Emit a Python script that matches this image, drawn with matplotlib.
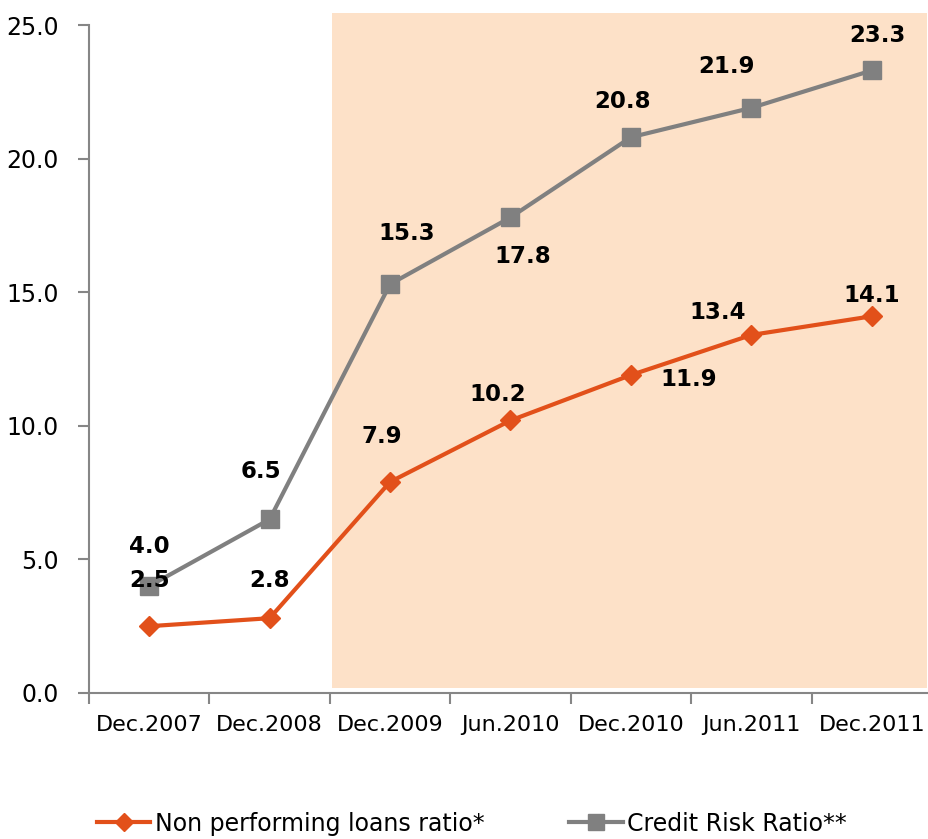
import matplotlib.pyplot as plt
import numpy as np

# ---------- Data ----------
periods = ["Dec.2007", "Dec.2008", "Dec.2009", "Jun.2010", "Dec.2010", "Jun.2011", "Dec.2011"]
npl_ratio = [2.5, 2.8, 7.9, 10.2, 11.9, 13.4, 14.1]
credit_risk = [4.0, 6.5, 15.3, 17.8, 20.8, 21.9, 23.3]
y_ticks = [0.0, 5.0, 10.0, 15.0, 20.0, 25.0]

# label offsets in pixels (dx, dy) relative to each point
npl_offsets = [(0, 46), (0, 38), (-8, 45), (-13, 26), (58, -4), (-34, 22), (0, 21)]
crr_offsets = [(0, 40), (-9, 48), (17, 51), (12, -39), (-8, 36), (-25, 41), (6, 35)]

ORANGE = "#E2501A"
GRAY = "#808080"
SHADE = "#FDE1C8"
AXIS = "#868686"

x = np.arange(len(periods))

fig = plt.figure(figsize=(9.29, 8.39), dpi=100)
ax = fig.add_axes([89 / 929, 146 / 839, 843 / 929, (693 - 13) / 839])

ax.set_xlim(-0.5, len(periods) - 0.5)
ax.set_ylim(0, 25.45)

# shaded crisis period
ax.fill_between([1.52, 6.46], 0.2, 25.45, color=SHADE, lw=0, zorder=0)

ax.plot(x, npl_ratio, color=ORANGE, lw=3, marker="D", ms=10.5,
        label="Non performing loans ratio*", zorder=3)
ax.plot(x, credit_risk, color=GRAY, lw=3, marker="s", ms=13.5,
        label="Credit Risk Ratio**", zorder=3)

for xi, v, off in zip(x, npl_ratio, npl_offsets):
    ax.annotate(f"{v:.1f}", (xi, v), xytext=off, textcoords="offset pixels",
                ha="center", va="center", fontsize=16.5, fontweight="bold", zorder=4)
for xi, v, off in zip(x, credit_risk, crr_offsets):
    ax.annotate(f"{v:.1f}", (xi, v), xytext=off, textcoords="offset pixels",
                ha="center", va="center", fontsize=16.5, fontweight="bold", zorder=4)

# axes styling
for s in ["top", "right"]:
    ax.spines[s].set_visible(False)
ax.spines["left"].set_bounds(0, 25)
ax.spines["left"].set_color(AXIS)
ax.spines["bottom"].set_color(AXIS)
ax.spines["left"].set_linewidth(1.5)
ax.spines["bottom"].set_linewidth(1.5)

ax.set_yticks(y_ticks)
ax.set_yticklabels([f"{t:.1f}" for t in y_ticks], fontsize=17)
ax.set_xticks(np.arange(-0.5, len(periods) + 0.5, 1.0))
ax.set_xticklabels([])
ax.set_xticks(x, minor=True)
ax.set_xticklabels(periods, minor=True, fontsize=16)
ax.tick_params(axis="x", which="major", length=8, width=1.5, color=AXIS, direction="out")
ax.tick_params(axis="x", which="minor", length=0, pad=16)
ax.tick_params(axis="y", length=8, width=1.5, color=AXIS, direction="out", pad=14)

fig.legend(loc="lower left", bbox_to_anchor=(97 / 929, 0.004), ncol=2, frameon=False,
           fontsize=17, handlelength=2.25, handletextpad=0.2, columnspacing=3.6,
           borderpad=0, borderaxespad=0, markerscale=0.85)

plt.savefig("out.png", dpi=100)
